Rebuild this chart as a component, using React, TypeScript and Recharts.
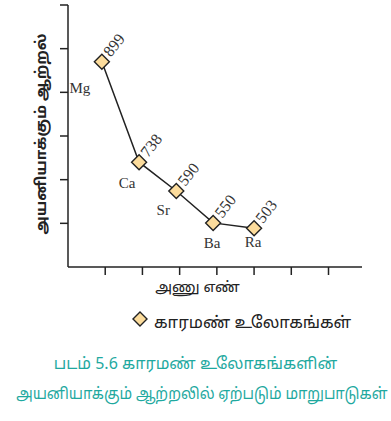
import React from "react";
import { LineChart, Line, XAxis, YAxis, LabelList, Label } from "recharts";

// Data
const elements = ["Mg", "Ca", "Sr", "Ba", "Ra"];
const ionisationEnergy = [899, 738, 590, 550, 503];
// plotted (schematic) positions of the points on the chart's unlabelled axes
const plotX = [0.91, 1.91, 2.91, 3.9, 5.0];
const plotY = [4.7, 2.4, 1.74, 1.01, 0.89];
const xTicks = [1, 2, 3, 4, 5, 6, 7];
const yTicks = [1, 2, 3, 4, 5, 6];

const yAxisTitle = "அயனியாக்கும் ஆற்றல்";
const xAxisTitle = "அணு எண்";
const legendName = "காரமண் உலோகங்கள்";
const captionLine1 = "படம் 5.6 காரமண் உலோகங்களின்";
const captionLine2 = "அயனியாக்கும் ஆற்றலில் ஏற்படும் மாறுபாடுகள்";

const data = elements.map((name, i) => ({
  name,
  value: ionisationEnergy[i],
  x: plotX[i],
  y: plotY[i],
}));

const FILL = "#FCDC9C";
const STROKE = "#222";
const TEAL = "#1FA99F";
const TAMIL = "'Noto Sans', 'Noto Sans Tamil', sans-serif";
const SERIF = "'Liberation Serif', 'Times New Roman', serif";

const Diamond = (props: any) => {
  const { cx, cy } = props;
  if (cx == null || cy == null) return null;
  const r = 7.5;
  return (
    <polygon
      points={`${cx},${cy - r} ${cx + r},${cy} ${cx},${cy + r} ${cx - r},${cy}`}
      fill={FILL}
      stroke={STROKE}
      strokeWidth={1.4}
    />
  );
};

const EmptyTick = () => <g />;

const nameOffset: Record<string, [number, number]> = {
  Mg: [-22, 31],
  Ca: [-12, 26],
  Sr: [-13, 24],
  Ba: [-1, 25],
  Ra: [-1, 19],
};

const NameLabel = (props: any) => {
  const { x, y, value } = props;
  const off = nameOffset[value] || [0, 20];
  return (
    <text
      x={x + off[0]}
      y={y + off[1]}
      textAnchor="middle"
      fontFamily={SERIF}
      fontSize={15}
      fill="#333"
    >
      {value}
    </text>
  );
};

const ValueLabel = (props: any) => {
  const { x, y, value } = props;
  const tx = x + 9;
  const ty = y - 4;
  return (
    <text
      x={tx}
      y={ty}
      transform={`rotate(-52 ${tx} ${ty})`}
      fontFamily={SERIF}
      fontSize={16}
      fill="#333"
    >
      {value}
    </text>
  );
};

const YTitle = (props: any) => {
  const vb = props.viewBox || {};
  const cx = 46;
  const cy = (vb.y ?? 5) + 129;
  return (
    <text
      x={cx}
      y={cy}
      transform={`rotate(-90 ${cx} ${cy})`}
      textAnchor="middle"
      fontFamily={TAMIL}
      fontWeight="bold"
      fontSize={15}
      fill="#222"
    >
      {yAxisTitle}
    </text>
  );
};

export default function App() {
  return (
    <div
      style={{
        position: "absolute",
        left: 0,
        top: 0,
        width: 391,
        height: 421,
        background: "#fff",
        fontFamily: TAMIL,
      }}
    >
      <LineChart
        width={391}
        height={300}
        data={data}
        margin={{ top: 5, right: 29, bottom: 0, left: 0 }}
      >
        <XAxis
          dataKey="x"
          type="number"
          domain={[0, 7.9]}
          ticks={xTicks}
          tick={<EmptyTick />}
          tickSize={8}
          height={33}
          axisLine={{ stroke: STROKE, strokeWidth: 1.5 }}
          tickLine={{ stroke: STROKE, strokeWidth: 1.5 }}
        />
        <YAxis
          dataKey="y"
          type="number"
          domain={[0, 6]}
          ticks={yTicks}
          tick={<EmptyTick />}
          tickSize={8}
          width={68}
          axisLine={{ stroke: STROKE, strokeWidth: 1.5 }}
          tickLine={{ stroke: STROKE, strokeWidth: 1.5 }}
        >
          <Label content={<YTitle />} />
        </YAxis>
        <Line
          dataKey="y"
          stroke={STROKE}
          strokeWidth={1.5}
          dot={<Diamond />}
          activeDot={false}
          isAnimationActive={false}
        >
          <LabelList dataKey="value" content={<ValueLabel />} />
          <LabelList dataKey="name" content={<NameLabel />} />
        </Line>
      </LineChart>

      <div
        style={{
          position: "absolute",
          left: 0,
          width: 391,
          top: 276,
          textAlign: "center",
          fontSize: 15,
          color: "#222",
          paddingLeft: 4,
          boxSizing: "border-box",
        }}
      >
        {xAxisTitle}
      </div>

      <div
        style={{
          position: "absolute",
          left: 131,
          top: 310,
          display: "flex",
          alignItems: "center",
          fontSize: 16.5,
          color: "#222",
        }}
      >
        <svg width={18} height={18} style={{ marginRight: 5, marginTop: -6 }}>
          <polygon points="9,2 16,9 9,16 2,9" fill={FILL} stroke={STROKE} strokeWidth={1.4} />
        </svg>
        <span>{legendName}</span>
      </div>

      <div
        style={{
          position: "absolute",
          left: 0,
          width: 391,
          top: 348,
          textAlign: "center",
          fontSize: 16,
          lineHeight: "30px",
          color: TEAL,
          whiteSpace: "nowrap",
        }}
      >
        <div>{captionLine1}</div>
        <div>
          <span style={{ display: "inline-block", transform: "scaleX(0.92)" }}>
            {captionLine2}
          </span>
        </div>
      </div>
    </div>
  );
}
